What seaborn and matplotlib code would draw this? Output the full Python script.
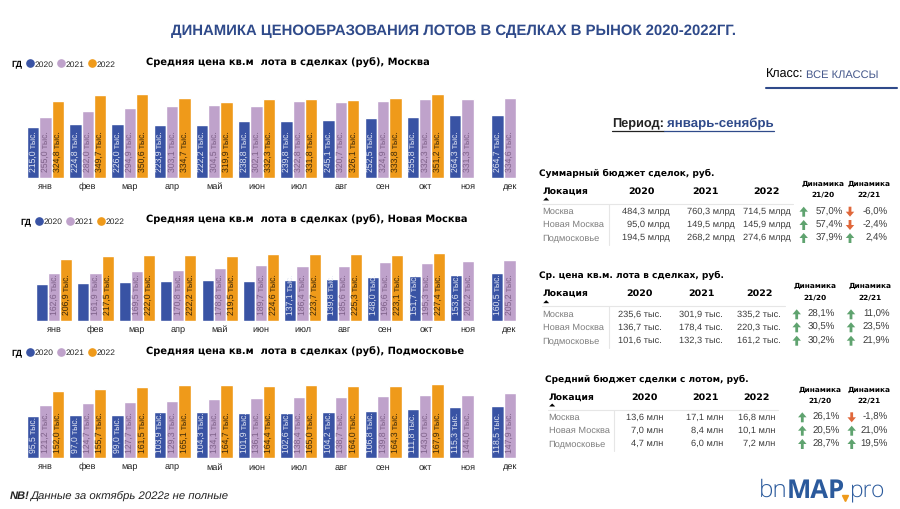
import pandas as pd
import seaborn as sns
import matplotlib.pyplot as plt
from matplotlib.lines import Line2D

W, H = 900, 509
nan = float('nan')

months = ['янв', 'фев', 'мар', 'апр', 'май', 'июн', 'июл', 'авг', 'сен', 'окт', 'ноя', 'дек']
years = ['2020', '2021', '2022']

msk_2020 = [215.0, 224.8, 226.0, 223.9, 222.2, 238.8, 239.8, 245.1, 252.5, 255.8, 264.3, 264.7]
msk_2021 = [255.0, 282.0, 294.9, 303.1, 304.5, 302.1, 322.8, 320.7, 324.9, 332.3, 331.3, 334.6]
msk_2022 = [324.8, 349.7, 350.6, 334.7, 319.9, 332.3, 331.8, 326.1, 333.8, 351.2, nan, nan]

# подписи янв-июн у синих столбцов на картинке не видны, значения оценены по высоте
nm_2020 = [124.0, 128.6, 131.0, 134.0, 136.5, 134.0, 137.1, 139.8, 148.0, 151.7, 153.6, 160.5]
nm_2021 = [162.6, 161.9, 169.5, 170.8, 178.8, 189.7, 186.4, 185.6, 196.6, 195.3, 202.2, 205.2]
nm_2022 = [206.9, 217.5, 222.0, 222.2, 219.5, 224.6, 223.7, 225.3, 223.1, 227.4, nan, nan]

mo_2020 = [95.5, 97.0, 99.0, 103.9, 104.3, 101.9, 102.6, 104.2, 106.8, 111.8, 115.3, 118.5]
mo_2021 = [121.2, 124.7, 127.7, 129.3, 134.1, 136.1, 138.4, 138.7, 139.8, 143.0, 144.0, 147.9]
mo_2022 = [152.0, 155.7, 161.5, 165.1, 164.7, 164.4, 165.0, 164.0, 164.3, 167.9, nan, nan]

locations = ['Москва', 'Новая Москва', 'Подмосковье']

budget_rows = [['484,3 млрд', '760,3 млрд', '714,5 млрд'],
               ['95,0 млрд', '149,5 млрд', '145,9 млрд'],
               ['194,5 млрд', '268,2 млрд', '274,6 млрд']]
budget_dyn = [[57.0, -6.0], [57.4, -2.4], [37.9, 2.4]]

price_rows = [['235,6 тыс.', '301,9 тыс.', '335,2 тыс.'],
              ['136,7 тыс.', '178,4 тыс.', '220,3 тыс.'],
              ['101,6 тыс.', '132,3 тыс.', '161,2 тыс.']]
price_dyn = [[28.1, 11.0], [30.5, 23.5], [30.2, 21.9]]

avg_rows = [['13,6 млн', '17,1 млн', '16,8 млн'],
            ['7,0 млн', '8,4 млн', '10,1 млн'],
            ['4,7 млн', '6,0 млн', '7,2 млн']]
avg_dyn = [[26.1, -1.8], [20.5, 21.0], [28.7, 19.5]]

sns.set_theme(style='white')
plt.rcParams['font.family'] = ['Liberation Sans', 'DejaVu Sans']
plt.rcParams['text.hinting'] = 'none'

BLUE = '#3953a4'
PURPLE = '#bfa2cb'
ORANGE = '#ef9a1a'
palette = {'2020': BLUE, '2021': PURPLE, '2022': ORANGE}
label_colors = {'2020': '#e4e8f4', '2021': '#7d6088', '2022': '#3a2708'}
NAVY = '#2f4a8a'
GREEN = '#5fa36f'
RED = '#e0673a'
GREY = '#7f7f7f'
HEAD_FONT = 'DejaVu Sans'

fig = plt.figure(figsize=(W / 100, H / 100), dpi=100)

# слой с координатами в пикселях для текста вне графиков
overlay = fig.add_axes([0, 0, 1, 1], zorder=5)
overlay.set_xlim(0, W)
overlay.set_ylim(H, 0)
overlay.axis('off')


def txt(x, y, s, size=7, color='black', ha='left', weight='normal', **kw):
    return overlay.text(x, y, s, fontsize=size, color=color, ha=ha, va='center', fontweight=weight, **kw)


def draw_panel(v2020, v2021, v2022, left, width, top, bottom, ymax, title, title_y,
               legend_x, legend_y, skip_2020=0):
    ax = fig.add_axes([left / W, 1 - bottom / H, width / W, (bottom - top) / H])
    df = pd.DataFrame({'месяц': months, '2020': v2020, '2021': v2021, '2022': v2022})
    df = df.melt(id_vars='месяц', var_name='год', value_name='цена')
    sns.barplot(data=df, x='месяц', y='цена', hue='год', palette=palette, width=0.875,
                gap=0, saturation=1, legend=False, ax=ax)
    ax.set_xlim(-0.5, 11.5)
    ax.set_ylim(0, ymax)
    ax.set_xlabel('')
    ax.set_ylabel('')
    ax.set_yticks([])
    ax.tick_params(axis='x', length=0, pad=8, labelsize=6.6, labelcolor='#222222')
    for lab in ax.get_xticklabels():
        lab.set_verticalalignment('baseline')
    sns.despine(ax=ax, left=True, bottom=True)

    # подписи значений внутри столбцов
    for year, cont in zip(years, ax.containers):
        for i, bar in enumerate(cont):
            val = bar.get_height()
            if pd.isna(val) or (year == '2020' and i < skip_2020):
                continue
            ax.annotate(f'{val:.1f}'.replace('.', ',') + ' тыс.',
                        (bar.get_x() + bar.get_width() / 2, 0),
                        xytext=(0, 4), textcoords='offset points', rotation=90,
                        ha='center', va='bottom', fontsize=6.2, color=label_colors[year])

    txt(146, title_y, title, size=7.15, weight='bold', family=HEAD_FONT)
    txt(legend_x, legend_y, 'ГД', size=6.3, weight='bold')
    handles = [Line2D([], [], ls='', marker='o', ms=5.2, color=palette[y], label=y) for y in years]
    ax.legend(handles=handles, ncol=3, frameon=False, fontsize=6.1, handlelength=0.9,
              handletextpad=0.1, columnspacing=0.42, borderpad=0, borderaxespad=0, loc='center left',
              bbox_to_anchor=((legend_x + 15.5) / W, 1 - legend_y / H), bbox_transform=fig.transFigure)
    return ax


draw_panel(msk_2020, msk_2021, msk_2022, 24.4, 506.4, 85, 178, 390,
           'Средняя цена кв.м  лота в сделках (руб), Москва', 62.5, 11, 64.3)
draw_panel(nm_2020, nm_2021, nm_2022, 33.4, 496.8, 243, 321, 262,
           'Средняя цена кв.м  лота в сделках (руб), Новая Москва', 220, 20, 221.7, skip_2020=6)
draw_panel(mo_2020, mo_2021, mo_2022, 24.4, 506.4, 378, 458.3, 181.5,
           'Средняя цена кв.м  лота в сделках (руб), Подмосковье', 351.7, 11, 353)


def arrow(x, yc, value):
    # стрелка динамики: вверх зелёная, вниз красная
    up = value >= 0
    sign = -1 if up else 1
    overlay.arrow(x, yc - sign * 5, 0, sign * 10, width=2.8, head_width=8.5, head_length=5,
                  length_includes_head=True, color=GREEN if up else RED, lw=0)


def draw_table(title, title_x, title_y, rows, dyn, head_x, head_y, year_x, dyn_x, dyn_y,
               tri_y, line_y, line_x1, vline_x, row_y, right_x, arrow_x, pct_x):
    txt(title_x, title_y, title, size=6.5, weight='bold', family=HEAD_FONT)
    txt(head_x, head_y, 'Локация', size=6.7, weight='bold', family=HEAD_FONT)
    for x, year in zip(year_x, years):
        txt(x, head_y, year, size=6.8, weight='bold', ha='center', family=HEAD_FONT)
    for x, sub in zip(dyn_x, ['21/20', '22/21']):
        txt(x, dyn_y[0], 'Динамика', size=5.3, weight='bold', ha='center', family=HEAD_FONT)
        txt(x, dyn_y[1], sub, size=5.3, weight='bold', ha='center', family=HEAD_FONT)
    overlay.fill([head_x + 0.5, head_x + 6.5, head_x + 3.5], [tri_y + 1.5, tri_y + 1.5, tri_y - 1.5],
                 color='black', lw=0)
    overlay.plot([head_x - 1, line_x1], [line_y, line_y], color='#e6e6e6', lw=0.8)
    overlay.plot([vline_x, vline_x], [line_y, row_y[2] + 7], color='#e6e6e6', lw=0.8)
    for name, vals, changes, y in zip(locations, rows, dyn, row_y):
        txt(head_x, y, name, size=6.7, color=GREY)
        for x, v in zip(right_x, vals):
            txt(x, y, v, size=6.7, color='#3c3c3c', ha='right')
        for ax_x, p_x, ch in zip(arrow_x, pct_x, changes):
            arrow(ax_x, y, ch)
            txt(p_x, y, f'{ch:.1f}%'.replace('.', ','), size=6.9, color='#3c3c3c', ha='right')


draw_table('Суммарный бюджет сделок, руб.', 539.3, 173, budget_rows, budget_dyn,
           542.7, 191, [641.7, 705.7, 766.7], [822.7, 869], [184, 194.3], 199, 204, 793, 609.3,
           [211.7, 225, 238], [670, 734.3, 790.7], [803.7, 850], [842.7, 887.7])
draw_table('Ср. цена кв.м. лота в сделках, руб.', 539.3, 275.7, price_rows, price_dyn,
           542.7, 293.7, [639.7, 701, 759.3], [815, 870.3], [286.3, 297], 301.7, 306.3, 785, 609.3,
           [314.3, 327.3, 340.7], [661.7, 723.3, 780.7], [796.7, 851], [835.3, 889.7])
draw_table('Средний бюджет сделки с лотом, руб.', 545.3, 379, avg_rows, avg_dyn,
           548.7, 397, [644.3, 705.7, 756], [819.7, 868.7], [389.7, 400.7], 405, 410.3, 778.3, 614.3,
           [417.3, 430.7, 444], [663.3, 723.7, 775.3], [802.3, 851.7], [840.3, 887.7])

# заголовок, фильтры, примечание, логотип
txt(453.5, 31, 'ДИНАМИКА ЦЕНООБРАЗОВАНИЯ ЛОТОВ В СДЕЛКАХ В РЫНОК 2020-2022ГГ.', size=10.75,
    color=NAVY, ha='center', weight='bold')
txt(765.5, 75, 'Класс:', size=9)
txt(805.5, 75, 'ВСЕ КЛАССЫ', size=8, color='#46598c')
overlay.plot([765.5, 897], [87.5, 87.5], color=NAVY, lw=1.5)
txt(612, 123.5, 'Период:', size=9.2, weight='bold', color='#222222')
txt(667, 123.5, 'январь-сенябрь', size=9.5, weight='bold', color=NAVY)
overlay.plot([612, 664], [130.5, 130.5], color='#222222', lw=0.9)
overlay.plot([664, 774], [130.5, 130.5], color=NAVY, lw=0.9)
txt(10, 496, 'NB!', size=8, weight='bold', style='italic', color='#222222')
txt(30, 496, 'Данные за октябрь 2022г не полные', size=8.2, style='italic', color='#222222')

LOGO = '#2b5a9c'
txt(759, 491, 'bn', size=17.5, color=LOGO, family='Open Sans', weight='light')
txt(787, 491, 'MAP', size=18.5, color=LOGO, family='Open Sans', weight='bold')
txt(850, 491, 'pro', size=16.5, color=LOGO, family='Open Sans', weight='light')
overlay.plot([845], [498], ls='', marker='v', ms=5, color='#ef9a1a')

fig.savefig('out.png', dpi=100, facecolor='white')
